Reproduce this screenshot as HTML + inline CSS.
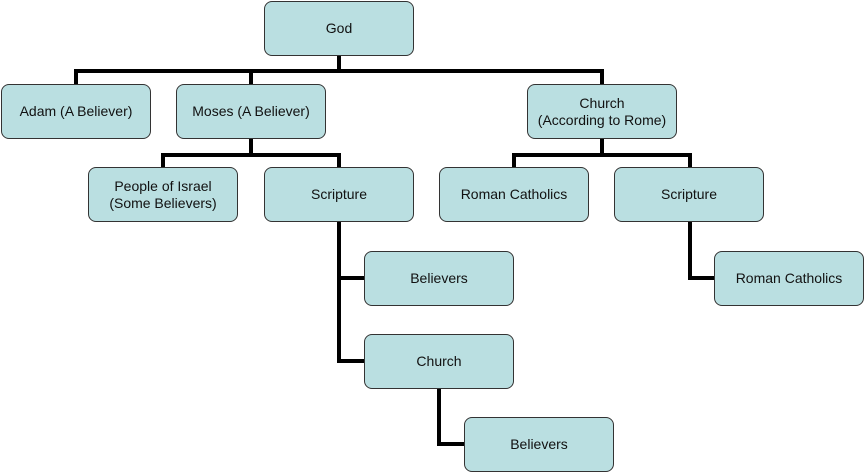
<!DOCTYPE html>
<html><head><style>
body{margin:0;width:866px;height:473px;background:#fff;position:relative;overflow:hidden;font-family:"Liberation Sans",sans-serif;}
.b{position:absolute;width:148px;height:53px;background:#badfe1;border:1px solid #333;border-radius:8px;display:flex;align-items:center;justify-content:center;text-align:center;font-size:14px;line-height:17px;color:#111;}
.h,.v{position:absolute;background:#000;}
.h{height:4px}.v{width:4px}
</style></head><body>
<!-- connectors -->
<div class="v" style="left:337px;top:56px;height:17px"></div>
<div class="h" style="left:74px;top:69px;width:530px"></div>
<div class="v" style="left:74px;top:69px;height:15px"></div>
<div class="v" style="left:249px;top:69px;height:15px"></div>
<div class="v" style="left:600px;top:69px;height:15px"></div>

<div class="v" style="left:249px;top:139px;height:17px"></div>
<div class="h" style="left:161px;top:153px;width:180px"></div>
<div class="v" style="left:161px;top:153px;height:14px"></div>
<div class="v" style="left:337px;top:153px;height:14px"></div>

<div class="v" style="left:600px;top:139px;height:17px"></div>
<div class="h" style="left:512px;top:153px;width:180px"></div>
<div class="v" style="left:512px;top:153px;height:14px"></div>
<div class="v" style="left:688px;top:153px;height:14px"></div>

<div class="v" style="left:337px;top:222px;height:141px"></div>
<div class="h" style="left:337px;top:276px;width:28px"></div>
<div class="h" style="left:337px;top:359px;width:28px"></div>

<div class="v" style="left:688px;top:222px;height:58px"></div>
<div class="h" style="left:688px;top:276px;width:27px"></div>

<div class="v" style="left:437px;top:389px;height:57px"></div>
<div class="h" style="left:437px;top:442px;width:28px"></div>

<!-- boxes -->
<div class="b" style="left:264px;top:1px">God</div>
<div class="b" style="left:1px;top:84px">Adam (A Believer)</div>
<div class="b" style="left:176px;top:84px">Moses (A Believer)</div>
<div class="b" style="left:527px;top:84px">Church<br>(According to Rome)</div>
<div class="b" style="left:88px;top:167px">People of Israel<br>(Some Believers)</div>
<div class="b" style="left:264px;top:167px">Scripture</div>
<div class="b" style="left:439px;top:167px">Roman Catholics</div>
<div class="b" style="left:614px;top:167px">Scripture</div>
<div class="b" style="left:364px;top:251px">Believers</div>
<div class="b" style="left:714px;top:251px">Roman Catholics</div>
<div class="b" style="left:364px;top:334px">Church</div>
<div class="b" style="left:464px;top:417px">Believers</div>
</body></html>
